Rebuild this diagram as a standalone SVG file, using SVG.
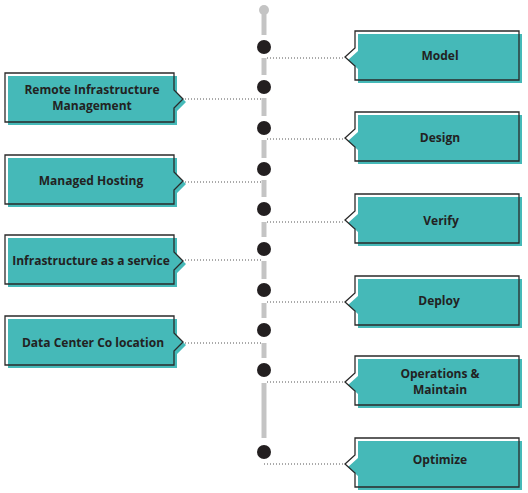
<svg xmlns="http://www.w3.org/2000/svg" width="528" height="493" viewBox="0 0 528 493">
<style>
.fill{fill:#45B9B8;stroke:none}
.out{fill:none;stroke:#2a2a2a;stroke-width:1.3;stroke-linejoin:miter}
.t{font-family:"Open Sans","Liberation Sans",sans-serif;font-weight:700;font-size:12px;fill:#222;text-anchor:middle}
.dot{fill:#231f20}
.seg{stroke:#c4c4c4;stroke-width:5}
.conn{stroke:#555;stroke-width:1;stroke-dasharray:1 2;fill:none}
</style>
<rect width="528" height="493" fill="#fff"/>
<g id="timeline">
<circle cx="264" cy="10" r="5" fill="#c4c4c4"/>
<line class="seg" x1="264" y1="10" x2="264" y2="35"/>
<line class="seg" x1="264" y1="58" x2="264" y2="75"/>
<line class="seg" x1="264" y1="98" x2="264" y2="116"/>
<line class="seg" x1="264" y1="140" x2="264" y2="158"/>
<line class="seg" x1="264" y1="180" x2="264" y2="197"/>
<line class="seg" x1="264" y1="222" x2="264" y2="237"/>
<line class="seg" x1="264" y1="261" x2="264" y2="279"/>
<line class="seg" x1="264" y1="303" x2="264" y2="318"/>
<line class="seg" x1="264" y1="343" x2="264" y2="358"/>
<line class="seg" x1="264" y1="383" x2="264" y2="438"/>
<circle class="dot" cx="264" cy="47" r="7"/>
<circle class="dot" cx="264" cy="87" r="7"/>
<circle class="dot" cx="264" cy="128" r="7"/>
<circle class="dot" cx="264" cy="169" r="7"/>
<circle class="dot" cx="264" cy="209" r="7"/>
<circle class="dot" cx="264" cy="249" r="7"/>
<circle class="dot" cx="264" cy="290" r="7"/>
<circle class="dot" cx="264" cy="330" r="7"/>
<circle class="dot" cx="264" cy="370" r="7"/>
<circle class="dot" cx="264" cy="452" r="7"/>
</g>
<g id="connectors">
<line class="conn" x1="267" y1="58" x2="345" y2="58"/>
<line class="conn" x1="267" y1="139" x2="345" y2="139"/>
<line class="conn" x1="267" y1="222" x2="345" y2="222"/>
<line class="conn" x1="267" y1="302" x2="345" y2="302"/>
<line class="conn" x1="267" y1="382" x2="345" y2="382"/>
<line class="conn" x1="264" y1="464" x2="345" y2="464"/>
<line class="conn" x1="185" y1="99" x2="263" y2="99"/>
<line class="conn" x1="185" y1="182" x2="263" y2="182"/>
<line class="conn" x1="185" y1="260" x2="263" y2="260"/>
<line class="conn" x1="185" y1="343" x2="263" y2="343"/>
</g>
<defs>
<path id="rb" d="M355,0 H519 V49 H355 V35 L345,26 L355,17 Z"/>
<path id="lb" d="M5,0 H174 V17 L183,26 L174,35 V49 H5 Z"/>
</defs>
<g id="model" transform="translate(0,31)">
<use href="#rb" class="fill" x="3" y="3"/><use href="#rb" class="out"/>
<text class="t" x="440" y="29">Model</text>
</g>
<g id="design" transform="translate(0,112)">
<use href="#rb" class="fill" x="3" y="3"/><use href="#rb" class="out"/>
<text class="t" x="440" y="30">Design</text>
</g>
<g id="verify" transform="translate(0,194)">
<use href="#rb" class="fill" x="3" y="3"/><use href="#rb" class="out"/>
<text class="t" x="441" y="31">Verify</text>
</g>
<g id="deploy" transform="translate(0,276)">
<use href="#rb" class="fill" x="3" y="3"/><use href="#rb" class="out"/>
<text class="t" x="439" y="29">Deploy</text>
</g>
<g id="operations" transform="translate(0,356)">
<use href="#rb" class="fill" x="3" y="3"/><use href="#rb" class="out"/>
<text class="t" x="440" y="21.5">Operations &amp;</text>
<text class="t" x="440" y="37.5">Maintain</text>
</g>
<g id="optimize" transform="translate(0,438)">
<use href="#rb" class="fill" x="3" y="3"/><use href="#rb" class="out"/>
<text class="t" x="440" y="26">Optimize</text>
</g>
<g id="remote" transform="translate(0,73)">
<use href="#lb" class="fill" x="3" y="3"/><use href="#lb" class="out"/>
<text class="t" x="92" y="20.8">Remote Infrastructure</text>
<text class="t" x="92" y="37">Management</text>
</g>
<g id="managed" transform="translate(0,155)">
<use href="#lb" class="fill" x="3" y="3"/><use href="#lb" class="out"/>
<text class="t" x="91" y="30">Managed Hosting</text>
</g>
<g id="iaas" transform="translate(0,235)">
<use href="#lb" class="fill" x="3" y="3"/><use href="#lb" class="out"/>
<text class="t" x="91" y="29.5">Infrastructure as a service</text>
</g>
<g id="datacenter" transform="translate(0,316)">
<use href="#lb" class="fill" x="3" y="3"/><use href="#lb" class="out"/>
<text class="t" x="93" y="31">Data Center Co location</text>
</g>
</svg>
